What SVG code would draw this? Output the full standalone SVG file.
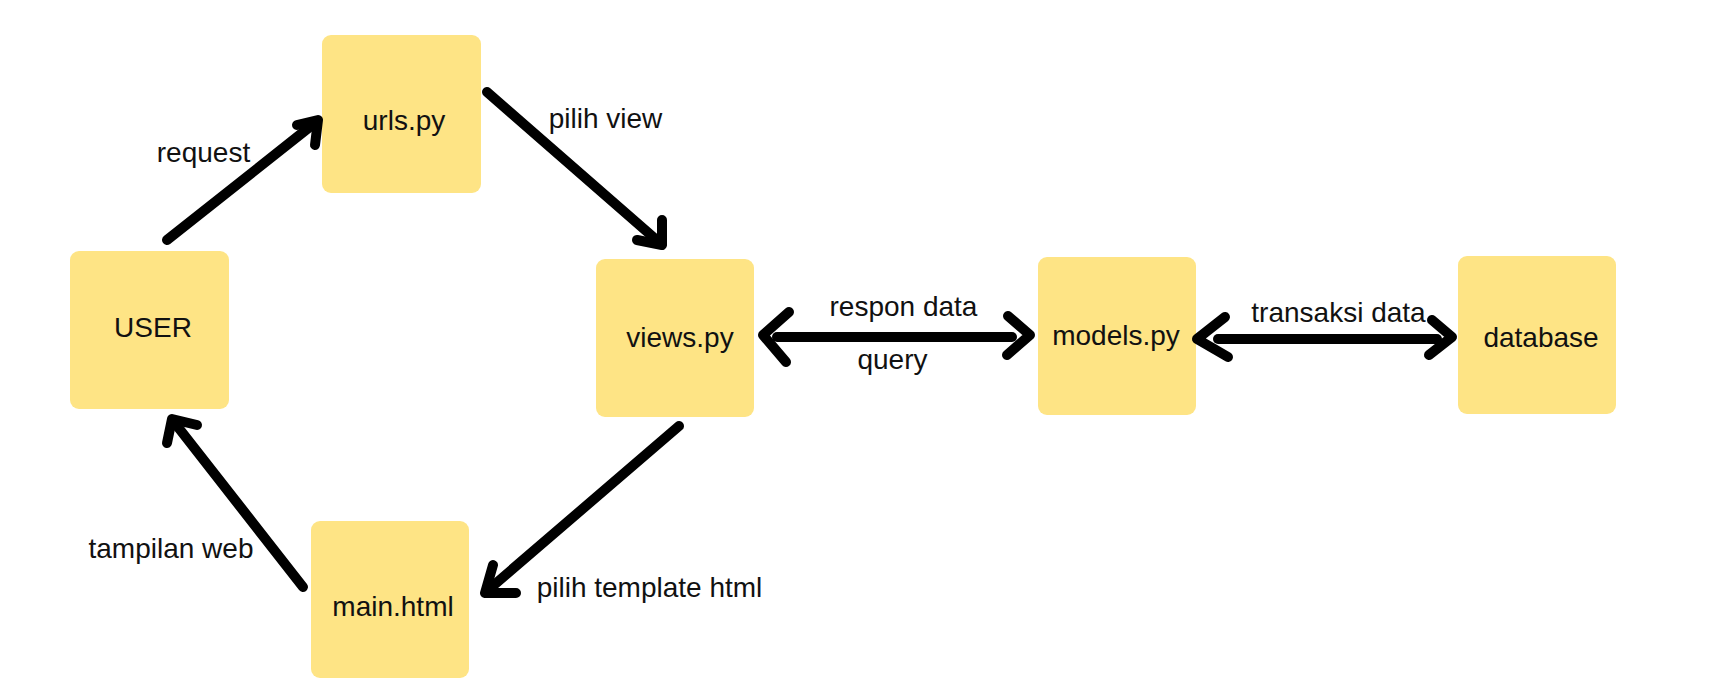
<svg xmlns="http://www.w3.org/2000/svg" width="1709" height="694" viewBox="0 0 1709 694">
<style>
.node rect{fill:#FEE485;}
text{font-family:"Liberation Sans",Arial,sans-serif;font-size:28px;fill:#111;text-anchor:middle;}
.conn path{fill:none;stroke:#000;stroke-width:10;stroke-linecap:round;stroke-linejoin:round;}
</style>
<rect width="1709" height="694" fill="#fff"/>
<g id="user" class="node"><rect x="70" y="251" width="159" height="158" rx="9"/><text x="153" y="337">USER</text></g>
<g id="urls" class="node"><rect x="322" y="35" width="159" height="158" rx="9"/><text x="404" y="130">urls.py</text></g>
<g id="views" class="node"><rect x="596" y="259" width="158" height="158" rx="9"/><text x="680" y="347">views.py</text></g>
<g id="models" class="node"><rect x="1038" y="257" width="158" height="158" rx="9"/><text x="1116" y="345">models.py</text></g>
<g id="database" class="node"><rect x="1458" y="256" width="158" height="158" rx="9"/><text x="1541" y="347">database</text></g>
<g id="main" class="node"><rect x="311" y="521" width="158" height="157" rx="9"/><text x="393" y="616">main.html</text></g>
<g id="connectors" class="conn">
<path d="M167,240 L316,122"/><path d="M297,125 L318,120 L315,145"/>
<path d="M487,92 L660,243"/><path d="M637,240 L662,245 L662,220"/>
<path d="M777,337 L1012,337"/><path d="M789,312 L763,335 L786,362"/><path d="M1008,316 L1030,335 L1007,355"/>
<path d="M1218,339 L1437,339"/><path d="M1225,317 L1197,339 L1228,357"/><path d="M1432,320 L1452,337 L1429,355"/>
<path d="M679,426 L487,591"/><path d="M493,565 L485,593 L516,593"/>
<path d="M303,587 L174,422"/><path d="M197,425 L172,419 L167,443"/>
</g>
<g id="labels">
<text x="203.5" y="162">request</text>
<text x="605.5" y="128">pilih view</text>
<text x="903.5" y="316">respon data</text>
<text x="892.5" y="369">query</text>
<text x="1338.5" y="322">transaksi data</text>
<text x="171" y="558">tampilan web</text>
<text x="649.5" y="597">pilih template html</text>
</g>
</svg>
